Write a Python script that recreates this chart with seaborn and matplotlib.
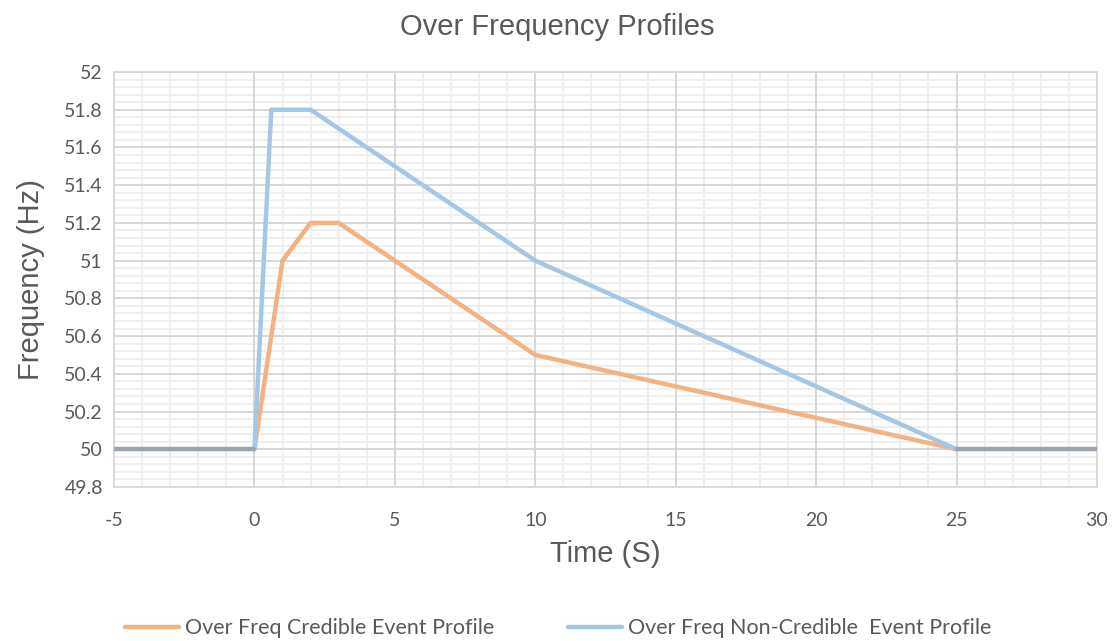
import matplotlib
matplotlib.use("Agg")
import matplotlib.pyplot as plt
import seaborn as sns
import pandas as pd
import numpy as np

# Frequency profiles (time in seconds, frequency in Hz)
credible_time = [0, 1, 2, 3, 10, 25]
credible_freq = [50.0, 51.0, 51.2, 51.2, 50.5, 50.0]

noncredible_time = [0, 0.6, 2, 10, 25]
noncredible_freq = [50.0, 51.8, 51.8, 51.0, 50.0]

# Nominal frequency before and after the event
nominal_pre_time = [-5, 0]
nominal_pre_freq = [50.0, 50.0]
nominal_post_time = [25, 30]
nominal_post_freq = [50.0, 50.0]

credible_label = "Over Freq Credible Event Profile"
noncredible_label = "Over Freq Non-Credible  Event Profile"

x_ticks = [-5, 0, 5, 10, 15, 20, 25, 30]
y_ticks = [49.8, 50.0, 50.2, 50.4, 50.6, 50.8, 51.0, 51.2, 51.4, 51.6, 51.8, 52.0]
y_tick_labels = ["49.8", "50", "50.2", "50.4", "50.6", "50.8", "51", "51.2",
                 "51.4", "51.6", "51.8", "52"]

sns.set_theme(style="white")
plt.rcParams["font.family"] = ["Liberation Sans", "DejaVu Sans"]

fig = plt.figure(figsize=(11.15, 6.41), dpi=100)
ax = fig.add_axes([114 / 1115, 1 - 487 / 641, (1097 - 114) / 1115, (487 - 72) / 641])

df_c = pd.DataFrame({"t": credible_time, "f": credible_freq})
df_n = pd.DataFrame({"t": noncredible_time, "f": noncredible_freq})
df_pre = pd.DataFrame({"t": nominal_pre_time, "f": nominal_pre_freq})
df_post = pd.DataFrame({"t": nominal_post_time, "f": nominal_post_freq})

orange = "#F4B183"
blue = "#A5C7E7"
grey = "#9DA3AD"
text_grey = "#595959"

sns.lineplot(data=df_c, x="t", y="f", ax=ax, color=orange, linewidth=3.2,
             sort=False, estimator=None, label=credible_label, zorder=3)
sns.lineplot(data=df_n, x="t", y="f", ax=ax, color=blue, linewidth=3.2,
             sort=False, estimator=None, label=noncredible_label, zorder=3)
sns.lineplot(data=df_pre, x="t", y="f", ax=ax, color=grey, linewidth=3.2,
             sort=False, estimator=None, legend=False, zorder=3)
sns.lineplot(data=df_post, x="t", y="f", ax=ax, color=grey, linewidth=3.2,
             sort=False, estimator=None, legend=False, zorder=3)

ax.set_xlim(-5, 30)
ax.set_ylim(49.8, 52)
ax.set_xticks(x_ticks)
ax.set_xticklabels([str(v) for v in x_ticks])
ax.set_yticks(y_ticks)
ax.set_yticklabels(y_tick_labels)

# Light minor grid underneath, major grid on top of it
x_minor = [v for v in np.arange(-5, 30.01, 1) if round(v) % 5 != 0]
y_minor = [49.8 + 0.04 * i for i in range(56) if i % 5 != 0]
minor_color = "#EEEEEE"
ax.vlines(x_minor, 0, 1, transform=ax.get_xaxis_transform(), colors=minor_color,
          linewidth=1.3, zorder=0.1)
ax.hlines(y_minor, 0, 1, transform=ax.get_yaxis_transform(), colors=minor_color,
          linewidth=1.3, zorder=0.1)
ax.grid(which="major", color="#D4D4D4", linewidth=1.3)
ax.set_axisbelow(True)
for s in ax.spines.values():
    s.set_color("#D9D9D9")
    s.set_linewidth(1.3)

ax.tick_params(axis="both", which="both", length=0, labelsize=14, colors=text_grey)
ax.tick_params(axis="y", pad=8)
ax.tick_params(axis="x", pad=18)
for lab in ax.get_xticklabels() + ax.get_yticklabels():
    lab.set_family(["Lato", "DejaVu Sans"])

ax.set_xlabel("Time (S)", fontsize=21, color=text_grey, labelpad=8)
ax.set_ylabel("Frequency (Hz)", fontsize=21, color=text_grey, labelpad=14)
fig.suptitle("Over Frequency Profiles", fontsize=21, color=text_grey, y=0.98)

ax.legend(loc="center", bbox_to_anchor=(0.452, -0.34), ncol=2, frameon=False,
          labelcolor=text_grey, handlelength=2.5, columnspacing=3.4,
          handletextpad=0.3, prop={"family": ["Lato", "DejaVu Sans"], "size": 15.5})

fig.savefig("out.png", dpi=100)
